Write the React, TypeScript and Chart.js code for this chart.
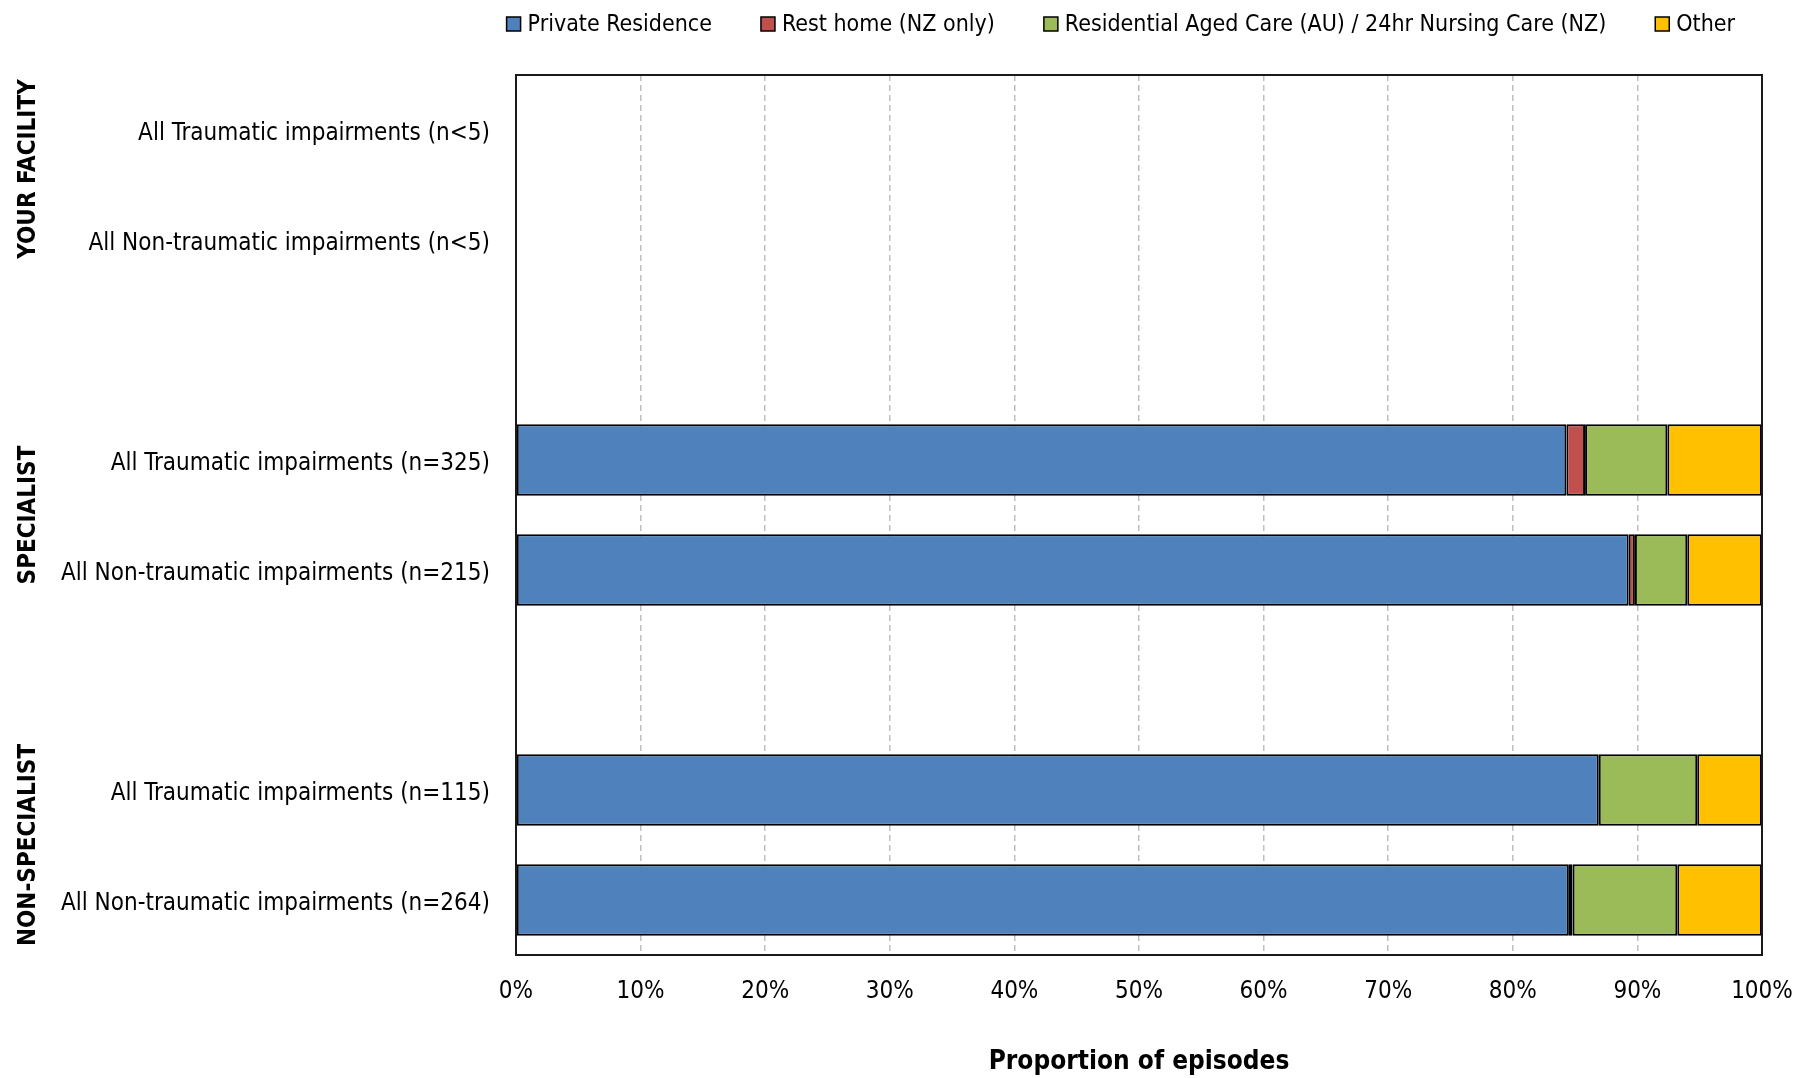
import React, { useEffect, useRef } from "react";
import { Chart, registerables } from "chart.js";

Chart.register(...registerables);

const categories = [
  "All Traumatic impairments (n<5)",
  "All Non-traumatic impairments (n<5)",
  " ",
  "All Traumatic impairments (n=325)",
  "All Non-traumatic impairments (n=215)",
  "  ",
  "All Traumatic impairments (n=115)",
  "All Non-traumatic impairments (n=264)",
];

const privateResidence = [null, null, null, 84.3, 89.3, null, 86.9, 84.5];
const restHome = [null, null, null, 1.5, 0.5, null, 0, 0.3];
const residentialAgedCare = [null, null, null, 6.6, 4.2, null, 7.9, 8.4];
const other = [null, null, null, 7.6, 6.0, null, 5.2, 6.8];

const seriesNames = [
  "Private Residence",
  "Rest home (NZ only)",
  "Residential Aged Care (AU) / 24hr Nursing Care (NZ)",
  "Other",
];
const seriesColors = ["#4F81BD", "#C0504D", "#9BBB59", "#FFC000"];

const groups = [
  { label: "YOUR FACILITY", from: 0, to: 1, shift: -16 },
  { label: "SPECIALIST", from: 3, to: 4, shift: 0 },
  { label: "NON-SPECIALIST", from: 6, to: 7, shift: 0 },
];

const xTicks = [0, 10, 20, 30, 40, 50, 60, 70, 80, 90, 100];

const FONT = '"Liberation Sans Narrow", "DejaVu Sans Condensed", "Arial Narrow", sans-serif';

const extrasPlugin = {
  id: "extras",
  afterDatasetsDraw(chart: any) {
    const { ctx, chartArea } = chart;
    ctx.save();
    ctx.strokeStyle = "#1a1a1a";
    ctx.lineWidth = 2;
    ctx.strokeRect(chartArea.left, chartArea.top, chartArea.right - chartArea.left, chartArea.bottom - chartArea.top);
    ctx.restore();
  },
  afterDraw(chart: any) {
    const { ctx, chartArea } = chart;
    const yScale = chart.scales.y;
    // group labels
    ctx.save();
    ctx.fillStyle = "#000";
    ctx.font = `bold 24px ${FONT}`;
    ctx.textAlign = "center";
    ctx.textBaseline = "middle";
    groups.forEach((g) => {
      const yc = (yScale.getPixelForValue(g.from) + yScale.getPixelForValue(g.to)) / 2 + g.shift;
      ctx.save();
      ctx.translate(29, yc);
      ctx.rotate(-Math.PI / 2);
      ctx.fillText(g.label, 0, 0);
      ctx.restore();
    });
    ctx.restore();
    // legend
    ctx.save();
    ctx.font = `23px ${FONT}`;
    ctx.textBaseline = "middle";
    ctx.textAlign = "left";
    const box = 14;
    const gapBoxText = 7;
    const gapItems = 49;
    const widths = seriesNames.map((n) => box + gapBoxText + ctx.measureText(n).width);
    const total = widths.reduce((a, b) => a + b, 0) + gapItems * (widths.length - 1);
    let x = chartArea.right - 27 - total;
    const y = 24;
    seriesNames.forEach((n, i) => {
      ctx.fillStyle = seriesColors[i];
      ctx.fillRect(x, y - box / 2, box, box);
      ctx.strokeStyle = "#000";
      ctx.lineWidth = 1.5;
      ctx.strokeRect(x, y - box / 2, box, box);
      ctx.fillStyle = "#000";
      ctx.fillText(n, x + box + gapBoxText, y + 1);
      x += widths[i] + gapItems;
    });
    ctx.restore();
  },
};

export default function App() {
  const ref = useRef<HTMLCanvasElement | null>(null);
  useEffect(() => {
    if (!ref.current) return;
    const data = [privateResidence, restHome, residentialAgedCare, other];
    const chart = new Chart(ref.current, {
      type: "bar",
      data: {
        labels: categories,
        datasets: data.map((d, i) => ({
          label: seriesNames[i],
          data: d,
          backgroundColor: seriesColors[i],
          borderColor: "#000",
          borderWidth: 2,
          borderSkipped: false,
          barPercentage: 0.65,
          categoryPercentage: 1,
        })),
      },
      options: {
        indexAxis: "y",
        animation: false,
        responsive: false,
        maintainAspectRatio: false,
        layout: { padding: { top: 75, right: 0, bottom: 0, left: 0 } },
        plugins: {
          legend: { display: false },
          tooltip: { enabled: false },
        },
        scales: {
          x: {
            stacked: true,
            min: 0,
            max: 100,
            afterBuildTicks(scale: any) {
              scale.ticks = xTicks.map((v) => ({ value: v }));
            },
            afterFit(scale: any) {
              scale.paddingRight = 32;
              scale.paddingLeft = 0;
            },
            ticks: {
              callback: (v: any) => `${v}%`,
              color: "#000",
              font: { size: 24, family: FONT },
              padding: 22,
              maxRotation: 0,
            },
            grid: {
              color: "#bfbfbf",
              lineWidth: 1.5,
              drawTicks: false,
            },
            border: { display: false, dash: [6, 4] },
            title: {
              display: true,
              text: "Proportion of episodes",
              color: "#000",
              font: { size: 26, weight: "bold", family: FONT },
              padding: { top: 19, bottom: 0 },
            },
          },
          y: {
            stacked: true,
            afterFit(scale: any) {
              scale.width = 516;
            },
            ticks: {
              color: "#000",
              font: { size: 24, family: FONT },
              padding: 26,
              labelOffset: 4,
            },
            grid: { display: false, drawTicks: false },
            border: { display: false },
          },
        },
      },
      plugins: [extrasPlugin],
    } as any);
    return () => chart.destroy();
  }, []);
  return (
    <div style={{ position: "absolute", left: 0, top: 0, width: 1794, height: 1078 }}>
      <canvas ref={ref} width={1794} height={1078} style={{ width: 1794, height: 1078 }} />
    </div>
  );
}
